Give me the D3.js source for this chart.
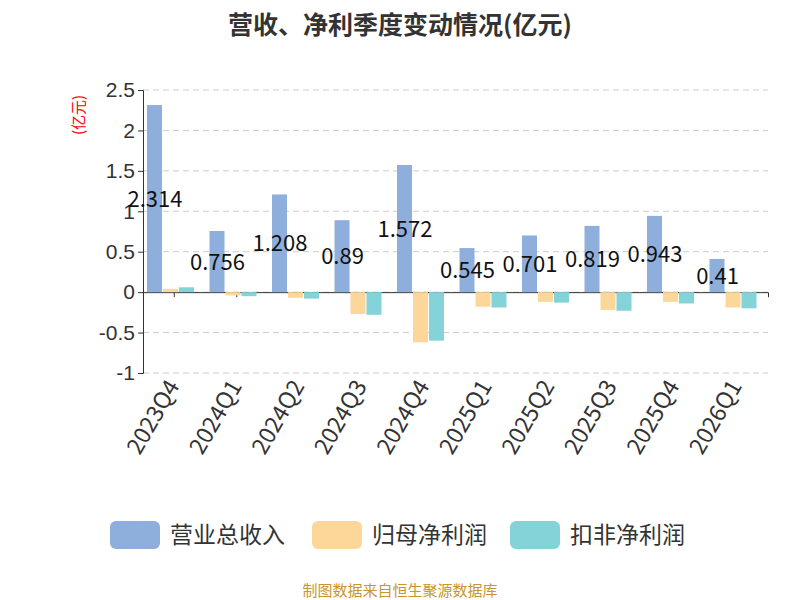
<!DOCTYPE html>
<html><head><meta charset="utf-8">
<script src="https://cdn.jsdelivr.net/npm/d3@7"></script>
<style>body{margin:0;background:#fff;font-family:"Noto Sans CJK SC","Noto Sans",sans-serif}</style>
</head><body><svg id="c" width="800" height="600"></svg>
<script>
const quarters = ['2023Q4','2024Q1','2024Q2','2024Q3','2024Q4','2025Q1','2025Q2','2025Q3','2025Q4','2026Q1'];
const revenue = [2.314,0.756,1.208,0.89,1.572,0.545,0.701,0.819,0.943,0.41];
const netProfit = [0.04,-0.04,-0.07,-0.27,-0.62,-0.18,-0.12,-0.22,-0.12,-0.19];
const netProfitDeducted = [0.06,-0.05,-0.08,-0.28,-0.60,-0.19,-0.13,-0.23,-0.14,-0.20];
const yTicks = [2.5,2,1.5,1,0.5,0,-0.5,-1];
const seriesNames = ['营业总收入','归母净利润','扣非净利润'];
const colors = ['#8eaedc','#fdd699','#84d3d8'];

const svg = d3.select('#c');
const x = d3.scaleBand().domain(quarters).range([143,768]);
const y = d3.scaleLinear().domain([-1,2.5]).range([373,90]);
const bw = 16;

svg.append('text').attr('x',400).attr('y',34).attr('text-anchor','middle')
  .attr('font-size',25).attr('font-weight','bold').attr('fill','#333').text('营收、净利季度变动情况(亿元)');

svg.append('g').selectAll('line').data(yTicks).enter().append('line')
  .attr('x1',143).attr('x2',768).attr('y1',d=>y(d)).attr('y2',d=>y(d))
  .attr('stroke','#ccc').attr('stroke-dasharray','6,4');

const yAxis = svg.append('g').attr('transform','translate(143,0)')
  .call(d3.axisLeft(y).tickValues(yTicks).tickSize(5).tickFormat(d=>d));
yAxis.selectAll('text').attr('font-size',21).attr('fill','#333');
yAxis.selectAll('line,path').attr('stroke','#333');

svg.append('text').attr('transform','translate(84,115) rotate(-90)').attr('text-anchor','middle')
  .attr('font-size',15).attr('fill','red').text('(亿元)');

const xAxis = svg.append('g').attr('transform',`translate(0,${y(0)})`)
  .call(d3.axisBottom(x).tickSize(5).tickFormat(''));
xAxis.selectAll('line,path').attr('stroke','#333');

svg.append('g').selectAll('text').data(quarters).enter().append('text')
  .attr('transform',d=>`translate(${x(d)+x.bandwidth()/2+6},386) rotate(-60)`)
  .attr('text-anchor','end').attr('font-size',23).attr('fill','#333').text(d=>d);

const series = [revenue, netProfit, netProfitDeducted];
series.forEach((vals,si)=>{
  svg.append('g').selectAll('rect').data(vals).enter().append('rect')
    .attr('x',(d,i)=>x(quarters[i])+4+si*bw)
    .attr('width',bw-1)
    .attr('y',d=>y(Math.max(0,d))).attr('height',d=>Math.abs(y(d)-y(0)))
    .attr('fill',colors[si]);
});

svg.append('g').selectAll('text').data(revenue).enter().append('text')
  .attr('x',(d,i)=>x(quarters[i])+4+bw/2)
  .attr('y',d=>(y(d)+y(0))/2+8).attr('text-anchor','middle')
  .attr('font-size',22).attr('fill','#111').text(d=>d);

const leg = svg.append('g');
const legX = [110,312,510];
seriesNames.forEach((n,i)=>{
  leg.append('rect').attr('x',legX[i]).attr('y',521).attr('width',50).attr('height',28).attr('rx',6).attr('fill',colors[i]);
  leg.append('text').attr('x',legX[i]+60).attr('y',543).attr('font-size',23).attr('fill','#333').text(n);
});

svg.append('text').attr('x',400).attr('y',596).attr('text-anchor','middle')
  .attr('font-size',15).attr('fill','#c8962c').text('制图数据来自恒生聚源数据库');
</script></body></html>
